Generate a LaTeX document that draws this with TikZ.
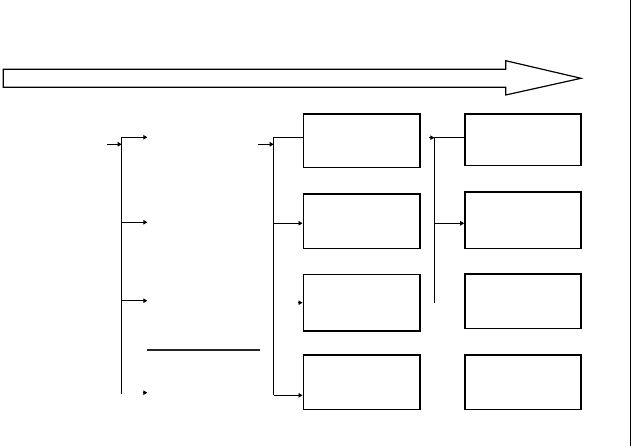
\documentclass[tikz,border=0pt]{standalone}
\usepackage{tikz}
\usetikzlibrary{calc}
\usetikzlibrary{positioning}
\usetikzlibrary{arrows.meta}

\begin{document}
\begin{tikzpicture}[x=1pt,y=-1pt,
  box/.style={draw,line width=1.6pt,rectangle,inner sep=0pt,minimum width=116.4pt},
  link/.style={line width=0.9pt},
  tip/.style={line width=0.9pt,-{Triangle[length=4pt,width=4.5pt]}}]
\useasboundingbox (0,0) rectangle (632,446);
% big arrow
\draw[line width=1.2pt,line join=miter] (3.3,69.3) -- (505.7,69.3) -- (505.7,60.7) -- (581,78.3)
  -- (505.7,95) -- (505.7,87.3) -- (3.3,87.3) -- cycle;
\draw[line width=1pt] (630.5,0) -- (630.5,446);

% boxes
\node[box,minimum height=53.3pt] (a1) at (361.5,140.7) {};
\node[box,minimum height=54.3pt] (a2) at (361.5,221.2) {};
\node[box,minimum height=56.7pt] (a3) at (361.5,302.7) {};
\node[box,minimum height=54.3pt] (a4) at (361.5,382.2) {};
\node[box,minimum height=51.3pt,minimum width=116pt] (b1) at (523,139.7) {};
\node[box,minimum height=56.3pt,minimum width=116pt] (b2) at (523,220.2) {};
\node[box,minimum height=54.4pt,minimum width=116pt] (b3) at (523,301.5) {};
\node[box,minimum height=54.3pt,minimum width=116pt] (b4) at (523,382.2) {};

% left tree
\coordinate (in1) at (106.7,144.3);
\coordinate (t1top) at (121.7,137.3);
\coordinate (t1bot) at (121.7,394);
\coordinate (l1) at (147.3,137.3);
\coordinate (l2) at (147.3,222.3);
\coordinate (l3) at (147.3,300.7);
\coordinate (l4) at (147.3,392.7);
\draw[tip] (in1) -- (in1 -| t1top);
\draw[link] (t1top) -- (t1bot);
\draw[tip] (t1top) -- (l1);
\draw[tip] (l2 -| t1top) -- (l2);
\draw[tip] (l3 -| t1top) -- (l3);
\draw[tip] ([xshift=-4pt]l4) -- (l4);
\coordinate (s1) at (146.7,350);
\coordinate (s2) at (260,350);
\draw[line width=1.8pt,black!85] (s1) -- (s2);

% middle tree
\coordinate (in2) at (258.3,144.3);
\coordinate (t2top) at (273.7,137.3);
\coordinate (t2bot) at (273.7,395.3);
\draw[tip] (in2) -- (in2 -| t2top);
\draw[link] (t2top) -- (t2bot);
\draw[link] (t2top) -- ([yshift=3.4pt]a1.west);
\draw[tip] ([yshift=-2.1pt]a2.west -| t2top) -- ([yshift=-2.1pt]a2.west);
\draw[tip] ([xshift=-5pt]a3.west) -- (a3.west);
\draw[tip] (t2bot) -- (t2bot -| a4.west);

% right tree
\coordinate (t3top) at (434.3,137.7);
\coordinate (t3bot) at (434.3,303.3);
\draw[tip] ([xshift=-5pt]t3top) -- (t3top);
\draw[link] (t3top) -- (t3bot);
\draw[link] (t3top) -- (t3top -| b1.west);
\draw[tip] ([yshift=-3.1pt]b2.west -| t3top) -- ([yshift=-3.1pt]b2.west);
\end{tikzpicture}
\end{document}
